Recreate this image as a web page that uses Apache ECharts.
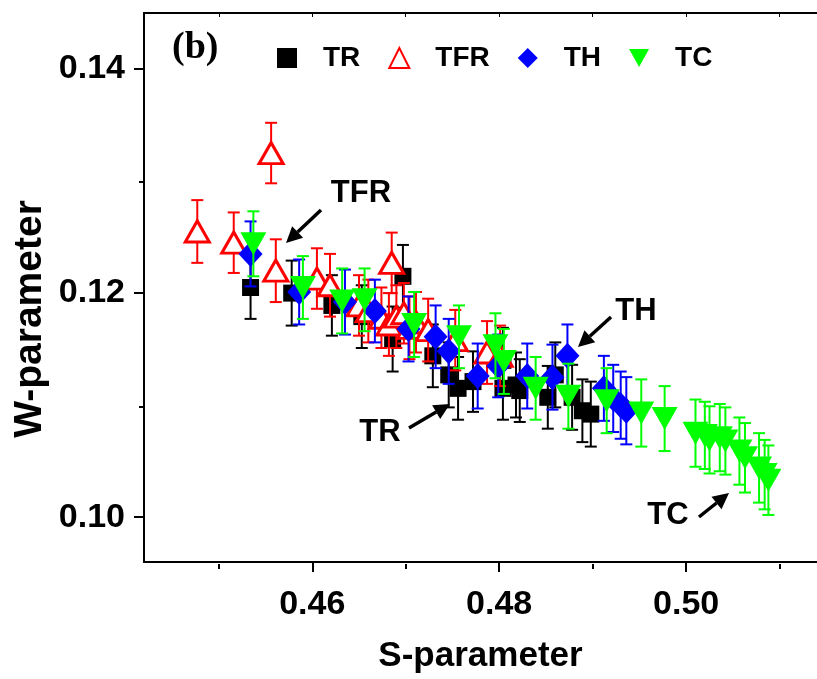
<!DOCTYPE html>
<html>
<head>
<meta charset="utf-8">
<script src="https://cdn.jsdelivr.net/npm/echarts@6/dist/echarts.min.js"></script>
<style>
  html, body { margin: 0; padding: 0; background: #ffffff; }
  #chart { width: 817px; height: 679px; }
</style>
</head>
<body>
<div id="chart"></div>
<script>
// S- and W-parameters (with W uncertainty) for each sample group
const trS  = [0.4534, 0.4578, 0.4621, 0.4653, 0.4686, 0.4697, 0.4729, 0.4746, 0.4756, 0.4772, 0.4804, 0.4804, 0.4818, 0.4822, 0.4852, 0.4860, 0.4878, 0.4889, 0.4898];
const trW  = [0.1205, 0.1200, 0.1189, 0.1179, 0.1159, 0.1215, 0.1144, 0.1127, 0.1115, 0.1121, 0.1140, 0.1115, 0.1118, 0.1113, 0.1107, 0.1127, 0.1107, 0.1095, 0.1092];
const trE  = [0.0028, 0.0029, 0.0027, 0.0028, 0.0029, 0.0028, 0.0028, 0.0029, 0.0028, 0.0027, 0.0029, 0.0028, 0.0029, 0.0028, 0.0028, 0.0029, 0.0029, 0.0028, 0.0029];

const tfrS = [0.4477, 0.4516, 0.4556, 0.4561, 0.4605, 0.4619, 0.4650, 0.4660, 0.4674, 0.4682, 0.4685, 0.4690, 0.4698, 0.4704, 0.4711, 0.4724, 0.4753, 0.4787, 0.4801];
const tfrW = [0.1255, 0.1245, 0.1325, 0.1220, 0.1213, 0.1207, 0.1189, 0.1184, 0.1178, 0.1172, 0.1227, 0.1179, 0.1182, 0.1169, 0.1174, 0.1167, 0.1158, 0.1147, 0.1144];
const tfrE = [0.0028, 0.0027, 0.0027, 0.0028, 0.0027, 0.0028, 0.0027, 0.0028, 0.0027, 0.0028, 0.0027, 0.0028, 0.0027, 0.0028, 0.0027, 0.0028, 0.0027, 0.0028, 0.0027];

const thS  = [0.4534, 0.4586, 0.4635, 0.4667, 0.4703, 0.4732, 0.4746, 0.4777, 0.4799, 0.4830, 0.4857, 0.4873, 0.4912, 0.4922, 0.4930, 0.4936];
const thW  = [0.1235, 0.1201, 0.1192, 0.1184, 0.1168, 0.1161, 0.1148, 0.1126, 0.1135, 0.1126, 0.1125, 0.1144, 0.1115, 0.1106, 0.1100, 0.1095];
const thE  = [0.0029, 0.0029, 0.0029, 0.0028, 0.0029, 0.0028, 0.0029, 0.0029, 0.0028, 0.0029, 0.0029, 0.0028, 0.0029, 0.0030, 0.0030, 0.0030];

const tcS  = [0.4537, 0.4590, 0.4632, 0.4656, 0.4709, 0.4757, 0.4796, 0.4805, 0.4839, 0.4874, 0.4915, 0.4952, 0.4977, 0.5010, 0.5020, 0.5025, 0.5036, 0.5042, 0.5057, 0.5063, 0.5078, 0.5084, 0.5088];
const tcW  = [0.1244, 0.1205, 0.1193, 0.1194, 0.1172, 0.1161, 0.1153, 0.1139, 0.1115, 0.1108, 0.1104, 0.1093, 0.1088, 0.1075, 0.1073, 0.1069, 0.1071, 0.1068, 0.1059, 0.1053, 0.1044, 0.1038, 0.1033];
const tcE  = [0.0029, 0.0028, 0.0029, 0.0028, 0.0029, 0.0028, 0.0029, 0.0029, 0.0028, 0.0029, 0.0029, 0.0030, 0.0029, 0.0030, 0.0030, 0.0030, 0.0030, 0.0030, 0.0030, 0.0031, 0.0031, 0.0031, 0.0031];

// axis ticks
const xMajor = [0.46, 0.48, 0.50];
const xMinor = [0.45, 0.47, 0.49, 0.51];
const xTop   = [0.45, 0.46, 0.47, 0.48, 0.49, 0.50, 0.51];
const yMajor = [0.10, 0.12, 0.14];
const yMinor = [0.11, 0.13];

const SANS = '"Liberation Sans", Arial, sans-serif';

const chart = echarts.init(document.getElementById('chart'), null, { renderer: 'canvas' });

const gridBox = { left: 144, top: 13, width: 681, height: 551 };
const X_MIN = 0.442, X_MAX = 0.514, Y_MIN = 0.096, Y_MAX = 0.145;

function errorBars(name, S, W, E, color, z) {
  return {
    type: 'custom',
    name: name + '-err',
    xAxisIndex: 0, yAxisIndex: 0,
    z: z,
    silent: true,
    data: S.map((s, i) => [s, W[i] - E[i], W[i] + E[i]]),
    encode: { x: 0, y: [1, 2] },
    renderItem(params, api) {
      const lo = api.coord([api.value(0), api.value(1)]);
      const hi = api.coord([api.value(0), api.value(2)]);
      const cap = 6;
      const style = { stroke: color, lineWidth: 2, fill: null };
      return {
        type: 'group',
        children: [
          { type: 'line', shape: { x1: lo[0], y1: lo[1], x2: hi[0], y2: hi[1] }, style },
          { type: 'line', shape: { x1: lo[0] - cap, y1: lo[1], x2: lo[0] + cap, y2: lo[1] }, style },
          { type: 'line', shape: { x1: hi[0] - cap, y1: hi[1], x2: hi[0] + cap, y2: hi[1] }, style }
        ]
      };
    }
  };
}

function points(name, S, W, symbol, size, itemStyle, z, rotate) {
  return {
    type: 'scatter',
    name: name,
    xAxisIndex: 0, yAxisIndex: 0,
    z: z,
    symbol: symbol,
    symbolSize: size,
    symbolRotate: rotate || 0,
    itemStyle: Object.assign({ opacity: 1 }, itemStyle),
    emphasis: { disabled: true },
    data: S.map((s, i) => [s, W[i]])
  };
}

// arrow annotation: shaft plus filled head
function arrow(x1, y1, x2, y2) {
  const ang = Math.atan2(y2 - y1, x2 - x1);
  const L = 16, H = 8;
  const bx = x2 - L * Math.cos(ang), by = y2 - L * Math.sin(ang);
  const px = -Math.sin(ang) * H, py = Math.cos(ang) * H;
  return [
    { type: 'line', shape: { x1, y1, x2: bx, y2: by }, style: { stroke: '#000', lineWidth: 3.5 }, z: 50 },
    { type: 'polygon', shape: { points: [[x2, y2], [bx + px, by + py], [bx - px, by - py]] }, style: { fill: '#000' }, z: 50 }
  ];
}

function label(text, x, y) {
  return {
    type: 'text', x, y, z: 50,
    style: { text, fill: '#000', font: 'bold 31px ' + SANS, align: 'center', verticalAlign: 'middle' }
  };
}

const option = {
  animation: false,
  backgroundColor: '#ffffff',
  grid: [
    Object.assign({ containLabel: false }, gridBox),
    Object.assign({ containLabel: false }, gridBox)
  ],
  xAxis: [
    {
      type: 'value', gridIndex: 0, position: 'bottom', min: X_MIN, max: X_MAX,
      name: 'S-parameter', nameLocation: 'middle', nameGap: 77,
      nameTextStyle: { fontFamily: SANS, fontWeight: 'bold', fontSize: 35, color: '#000' },
      axisLine: { show: true, lineStyle: { color: '#000', width: 2 } },
      axisTick: { show: true, inside: false, length: 10, customValues: xMajor, lineStyle: { color: '#000', width: 2 } },
      axisLabel: { customValues: xMajor, formatter: v => v.toFixed(2), margin: 26,
        fontFamily: SANS, fontWeight: 'bold', fontSize: 34, color: '#000' },
      splitLine: { show: false }
    },
    {
      type: 'value', gridIndex: 0, position: 'top', min: X_MIN, max: X_MAX,
      axisLine: { show: true, lineStyle: { color: '#000', width: 2 } },
      axisTick: { show: true, inside: true, length: 4, customValues: xTop, lineStyle: { color: '#000', width: 1 } },
      axisLabel: { show: false },
      splitLine: { show: false }
    },
    {
      type: 'value', gridIndex: 1, position: 'bottom', min: X_MIN, max: X_MAX,
      axisLine: { show: false },
      axisTick: { show: true, inside: false, length: 5, customValues: xMinor, lineStyle: { color: '#000', width: 2 } },
      axisLabel: { show: false },
      splitLine: { show: false }
    }
  ],
  yAxis: [
    {
      type: 'value', gridIndex: 0, position: 'left', min: Y_MIN, max: Y_MAX,
      axisLine: { show: true, lineStyle: { color: '#000', width: 2 } },
      axisTick: { show: true, inside: false, length: 10, customValues: yMajor, lineStyle: { color: '#000', width: 2 } },
      axisLabel: { customValues: yMajor, formatter: v => v.toFixed(2), margin: 19,
        fontFamily: SANS, fontWeight: 'bold', fontSize: 34, color: '#000' },
      splitLine: { show: false }
    },
    {
      type: 'value', gridIndex: 1, position: 'left', min: Y_MIN, max: Y_MAX,
      axisLine: { show: false },
      axisTick: { show: true, inside: false, length: 5, customValues: yMinor, lineStyle: { color: '#000', width: 2 } },
      axisLabel: { show: false },
      splitLine: { show: false }
    }
  ],
  legend: {
    left: 272, top: 39,
    itemWidth: 20, itemHeight: 20, itemGap: 28,
    data: ['TR', 'TFR', 'TH', { name: 'TC', icon: 'path://M0,0L2,0L1,1.8Z' }],
    textStyle: { fontFamily: SANS, fontWeight: 'bold', fontSize: 28, color: '#000', padding: [0, 0, 0, 21] },
    selectedMode: false
  },
  // plotted in legend order: TR, TFR, TH, TC
  series: [
    errorBars('TR', trS, trW, trE, '#000000', 2),
    points('TR', trS, trW, 'rect', [17, 17], { color: '#000000' }, 3),
    errorBars('TFR', tfrS, tfrW, tfrE, '#ff0000', 4),
    points('TFR', tfrS, tfrW, 'triangle', [24, 21], { color: '#ffffff', borderColor: '#ff0000', borderWidth: 3 }, 5),
    errorBars('TH', thS, thW, thE, '#0000ff', 6),
    points('TH', thS, thW, 'diamond', [24, 26], { color: '#0000ff' }, 7),
    errorBars('TC', tcS, tcW, tcE, '#00ff00', 8),
    points('TC', tcS, tcW, 'triangle', [26, 23], { color: '#00ff00' }, 9, 180)
  ],
  graphic: [
    {
      type: 'text', x: 30, y: 319, rotation: Math.PI / 2, z: 50,
      style: { text: 'W-parameter', fill: '#000', font: 'bold 39px ' + SANS, align: 'center', verticalAlign: 'middle' }
    },
    {
      type: 'text', x: 172, y: 48, z: 50,
      style: { text: '(b)', fill: '#000', font: 'bold 38px "Liberation Serif", serif', align: 'left', verticalAlign: 'middle' }
    },
    label('TFR', 361, 193),
    label('TR', 380, 432),
    label('TH', 636, 311),
    label('TC', 668, 515),
    ...arrow(321, 210, 286, 243),
    ...arrow(409, 428, 450, 404),
    ...arrow(611, 317, 578, 347),
    ...arrow(699, 517, 729, 493)
  ]
};

chart.setOption(option);
</script>
</body>
</html>
